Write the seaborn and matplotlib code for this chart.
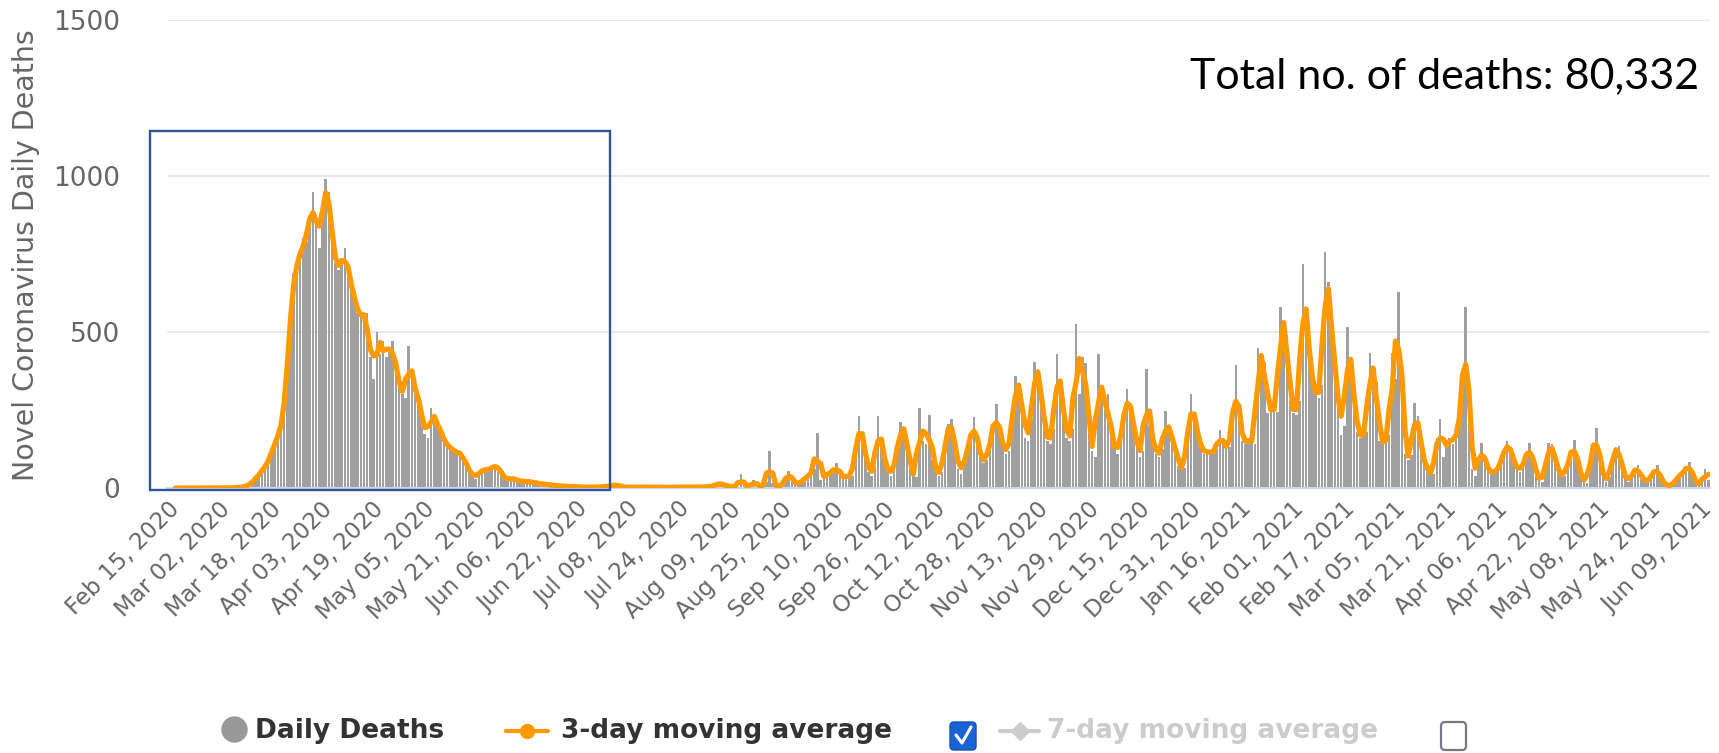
import pandas as pd
import seaborn as sns
import matplotlib.pyplot as plt
from matplotlib.lines import Line2D
from matplotlib.patches import Rectangle, FancyBboxPatch
from matplotlib.transforms import IdentityTransform

# mortes diarias (15/02/2020 a 09/06/2021), por trecho
primeira_onda = [  # 15 fev - 24 jun 2020
    0, 0, 0, 0, 0, 0, 0, 0, 0, 0, 0, 0, 0, 0, 0, 0, 0,
    1, 0, 1, 2, 3, 5, 10, 17, 28, 45, 50, 70, 85, 105,
    150, 160, 190, 250, 380, 560, 690, 710, 740, 800, 790, 850, 948, 850, 768, 900, 990, 950, 800, 720,
    700, 720, 768, 690, 671, 600, 560, 560, 545, 560, 420, 350, 500, 430, 470, 420, 445, 470, 380, 340,
    300, 290, 456, 350, 320, 290, 250, 172, 160, 258, 215, 215, 183, 150, 140, 129, 120, 115, 110, 110,
    70, 60, 40, 30, 50, 60, 55, 60, 65, 70, 72, 50, 30, 25, 35, 28, 25, 22, 20, 22,
    18, 20, 15, 14, 12, 13, 10, 9, 8, 7, 6, 5, 6, 5, 4, 4, 3, 3, 2, 3,
]
verao_2020 = [  # 25 jun - 08 ago 2020
    3, 2, 4, 5, 3, 6, 9, 10, 7, 4, 3, 2, 3, 2, 3, 2, 4, 3, 2, 3,
    2, 3, 2, 1, 3, 2, 3, 2, 4, 3, 2, 3, 5, 2, 3, 4, 3, 6, 8, 15,
    14, 9, 6, 4, 3,
]
fim_verao_2020 = [  # 09 ago - 04 out 2020
    2, 45, 10, 3, 2, 25, 12, 5, 3, 20,
    120, 15, 8, 3, 6, 30, 55, 30, 15, 10,
    20, 30, 40, 45, 60, 175, 25, 35, 50, 45,
    50, 80, 45, 35, 30, 45, 40, 110, 232, 180,
    110, 50, 40, 70, 232, 150, 90, 50, 40, 70,
    110, 210, 190, 170, 60, 40, 35,
]
outono_2020 = [  # 05 out 2020 - 10 jan 2021
    257, 150, 140, 235, 90, 60, 40, 50, 150, 204,
    220, 155, 60, 45, 90, 120, 160, 228, 160, 100,
    80, 90, 150, 180, 268, 180, 140, 110, 120, 200,
    359, 330, 300, 160, 150, 220, 404, 380, 330, 200,
    150, 140, 190, 429, 350, 250, 160, 150, 190, 526,
    300, 420, 400, 180, 120, 100, 429, 290, 250, 300,
    160, 130, 110, 150, 240, 316, 260, 210, 140, 100,
    120, 381, 200, 160, 110, 100, 125, 247, 180, 160,
    150, 70, 60, 65, 180, 301, 230, 180, 130, 110,
    120, 115, 110, 125, 187, 140, 130, 130,
]
inverno_2021 = [  # 11 jan - 26 mar 2021
    200, 394, 240, 150, 140, 160, 150, 140, 448, 420,
    405, 240, 260, 250, 245, 581, 520, 490, 280, 240,
    235, 280, 717, 580, 425, 330, 300, 290, 330, 757,
    660, 500, 380, 320, 170, 200, 517, 420, 300, 180,
    160, 170, 180, 434, 380, 340, 150, 140, 150, 170,
    434, 350, 628, 357, 110, 90, 106, 273, 230, 125,
    90, 55, 45, 45, 160, 220, 100, 150, 160, 140,
    165, 200, 306, 581, 300,
]
primavera_2021 = [  # 27 mar - 09 jun 2021
    60, 40, 90, 143, 85, 60, 50, 45, 60, 80,
    116, 150, 130, 90, 60, 50, 80, 100, 143, 100,
    50, 25, 20, 60, 143, 140, 100, 50, 35, 40,
    80, 110, 154, 90, 40, 20, 15, 90, 130, 193,
    90, 35, 20, 35, 100, 130, 135, 60, 30, 20,
    40, 60, 73, 30, 20, 25, 30, 55, 73, 30,
    15, 8, 6, 12, 30, 40, 50, 55, 84, 50,
    15, 5, 20, 62, 25,
]

rotulos_x = ['Feb 15, 2020', 'Mar 02, 2020', 'Mar 18, 2020', 'Apr 03, 2020', 'Apr 19, 2020',
             'May 05, 2020', 'May 21, 2020', 'Jun 06, 2020', 'Jun 22, 2020', 'Jul 08, 2020',
             'Jul 24, 2020', 'Aug 09, 2020', 'Aug 25, 2020', 'Sep 10, 2020', 'Sep 26, 2020',
             'Oct 12, 2020', 'Oct 28, 2020', 'Nov 13, 2020', 'Nov 29, 2020', 'Dec 15, 2020',
             'Dec 31, 2020', 'Jan 16, 2021', 'Feb 01, 2021', 'Feb 17, 2021', 'Mar 05, 2021',
             'Mar 21, 2021', 'Apr 06, 2021', 'Apr 22, 2021', 'May 08, 2021', 'May 24, 2021',
             'Jun 09, 2021']
ticks_y = [0, 500, 1000, 1500]

mortes = primeira_onda + verao_2020 + fim_verao_2020 + outono_2020 + inverno_2021 + primavera_2021
dias = pd.date_range('2020-02-15', '2021-06-09', freq='D')
df = pd.DataFrame({'Dia': range(len(dias)), 'Data': dias, 'Mortes': mortes})
df['Media3'] = df['Mortes'].rolling(3, center=True, min_periods=1).mean()

sns.set_style('white')
plt.rcParams['font.family'] = ['DejaVu Sans']

W, H = 1719, 753
# um pouco de folga a esquerda para o primeiro rotulo (deslocado 2.5 dias)
px_dia = 1536 / len(df)
folga = 2.1
fig = plt.figure(figsize=(W / 100, H / 100), dpi=100)
ax = fig.add_axes([(174 - folga * px_dia) / W, 1 - 488 / H,
                   (1536 + folga * px_dia) / W, 468 / H])

sns.barplot(data=df, x='Dia', y='Mortes', color='#a0a0a0', saturation=1, width=0.8,
            errorbar=None, linewidth=0, ax=ax)
sns.lineplot(data=df, x='Dia', y='Media3', color='#ff9900', linewidth=3.8, ax=ax, zorder=5)

ax.set_yticks(ticks_y)
ax.set_yticklabels([str(v) for v in ticks_y])
# os rotulos terminam um pouco antes do dia marcado, como no original
ax.set_xticks([d - 2.5 for d in range(0, len(df), 16)])
ax.set_xticklabels(rotulos_x, rotation=45, ha='right', rotation_mode='anchor')
ax.set_xlim(-0.5 - folga, len(df) - 0.5)
ax.set_ylim(0, 1500)
ax.set_xlabel('')
ax.set_ylabel('')
ax.yaxis.grid(True, color='#e6e6e6', linewidth=1.3)
ax.set_axisbelow(True)
for lado in ['top', 'right', 'left']:
    ax.spines[lado].set_visible(False)
ax.spines['bottom'].set_color('#ccd6eb')
ax.spines['bottom'].set_linewidth(1.5)
ax.tick_params(axis='y', length=0, pad=34, labelsize=19, labelcolor='#666666')
ax.tick_params(axis='x', length=0, pad=7, labelsize=16.5, labelcolor='#666666')

fig.text(26 / W, 1 - 255 / H, 'Novel Coronavirus Daily Deaths', rotation=90,
         ha='center', va='center', fontsize=20.5, color='#666666')

fig.text(1699 / W, 1 - 88 / H, 'Total no. of deaths: 80,332', ha='right', va='baseline',
         fontsize=31, color='black', family=['Lato', 'DejaVu Sans'])

# retangulo azul destacando a primeira onda
fig.add_artist(Rectangle((150, H - 490), 460, 359, transform=IdentityTransform(),
                         fill=False, edgecolor='#2f5597', linewidth=1.7, zorder=10))

# legenda desenhada a mao (estilo highcharts)
pix = IdentityTransform()
yl = 22
fig.add_artist(Line2D([234], [yl + 2], marker='o', markersize=18, color='#999999',
                      linestyle='none', transform=pix))
fig.text(255, yl, 'Daily Deaths', transform=pix, va='center', ha='left', fontsize=19,
         fontweight='bold', color='#333333')
fig.add_artist(Line2D([506, 548], [yl, yl], color='#ff9900', linewidth=3, transform=pix))
fig.add_artist(Line2D([527], [yl], marker='o', markersize=10, color='#ff9900', transform=pix))
fig.text(561, yl, '3-day moving average', transform=pix, va='center', ha='left', fontsize=19,
         fontweight='bold', color='#333333')
fig.add_artist(FancyBboxPatch((950, 3), 26, 28, boxstyle='round,pad=0,rounding_size=4',
                              transform=pix, facecolor='#1a63d6', edgecolor='#1a4fb0', linewidth=1))
fig.add_artist(Line2D([956, 962, 971], [18, 10, 26], color='white', linewidth=2.2, transform=pix))
fig.add_artist(Line2D([1000, 1039], [yl, yl], color='#cccccc', linewidth=3, transform=pix))
fig.add_artist(Line2D([1020], [yl], marker='D', markersize=9, color='#cccccc', transform=pix))
fig.text(1047, yl, '7-day moving average', transform=pix, va='center', ha='left', fontsize=19,
         fontweight='bold', color='#cccccc')
fig.add_artist(FancyBboxPatch((1441, 3), 25, 28, boxstyle='round,pad=0,rounding_size=4',
                              transform=pix, facecolor='white', edgecolor='#77778a', linewidth=1.6))

fig.savefig('out.png', dpi=100)
